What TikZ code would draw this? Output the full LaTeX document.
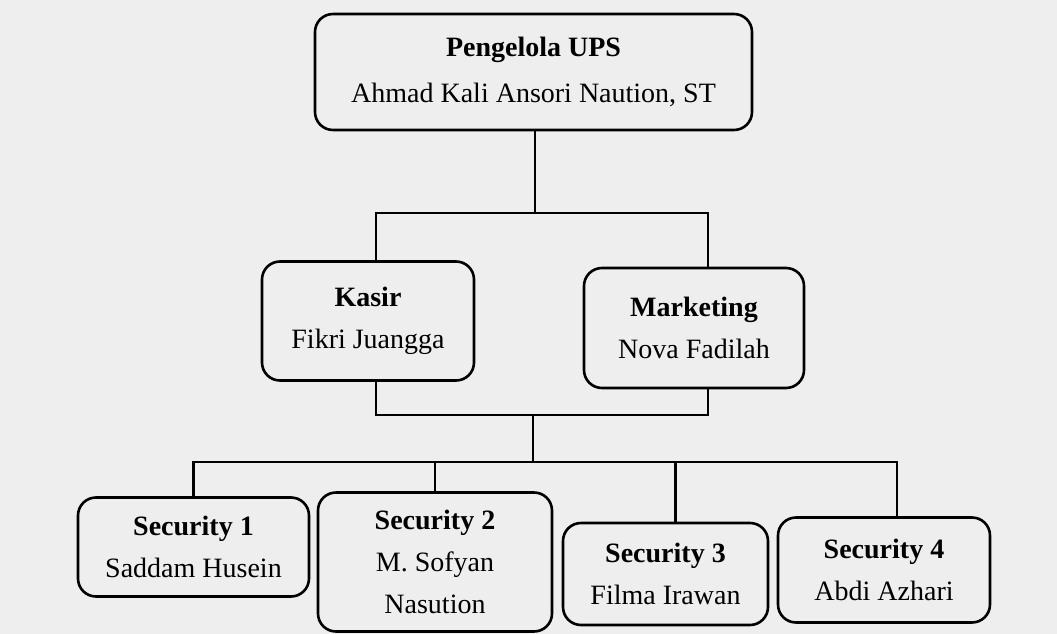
\documentclass[tikz,border=0pt]{standalone}
\usepackage{fontspec}
\setmainfont{Liberation Serif}
\definecolor{paper}{HTML}{EEEEEE}
\begin{document}
\begin{tikzpicture}[x=1pt,y=-1pt,
  orgbox/.style={draw=black, line width=2.6pt, rounded corners=18pt, align=center,
    inner sep=0pt, font=\fontsize{28}{42}\selectfont},
  conn/.style={draw=black, line width=2.6pt}]
\fill[paper] (0,0) rectangle (1057,634);
\useasboundingbox (0,0) rectangle (1057,634);
\node[orgbox, minimum width=437pt, minimum height=116pt, font=\fontsize{28}{46}\selectfont] (top) at (533.5,72) {\textbf{Pengelola UPS}\\Ahmad Kali Ansori Naution, ST};
\node[orgbox, minimum width=212pt, minimum height=119pt] (kasir) at (368,321) {\textbf{Kasir}\\Fikri Juangga};
\node[orgbox, minimum width=220pt, minimum height=120pt] (mkt) at (694,328) {\textbf{Marketing}\\Nova Fadilah};
\node[orgbox, minimum width=231pt, minimum height=99pt] (s1) at (193.5,547) {\textbf{Security 1}\\Saddam Husein};
\node[orgbox, minimum width=234pt, minimum height=139pt] (s2) at (435,562) {\textbf{Security 2}\\M. Sofyan\\Nasution};
\node[orgbox, minimum width=205pt, minimum height=102pt] (s3) at (665.5,574) {\textbf{Security 3}\\Filma Irawan};
\node[orgbox, minimum width=212pt, minimum height=105pt] (s4) at (884,570) {\textbf{Security 4}\\Abdi Azhari};
\coordinate (j1) at (535,213);
\coordinate (j2) at (533,415);
\coordinate (j3) at (533,462);
\draw[conn] (top.south -| j1) -- (j1);
\draw[conn] ([xshift=8pt]kasir.north) |- (j1) -| ([xshift=14pt]mkt.north);
\draw[conn] ([xshift=8pt]kasir.south) |- (j2) -| ([xshift=14pt]mkt.south);
\draw[conn] (j2) -- (j3);
\draw[conn] (s1.north) |- (j3) -| ([xshift=13pt]s4.north);
\draw[conn] (j3) -| (s2.north);
\draw[conn] (j3) -| ([xshift=10pt]s3.north);
\end{tikzpicture}
\end{document}
